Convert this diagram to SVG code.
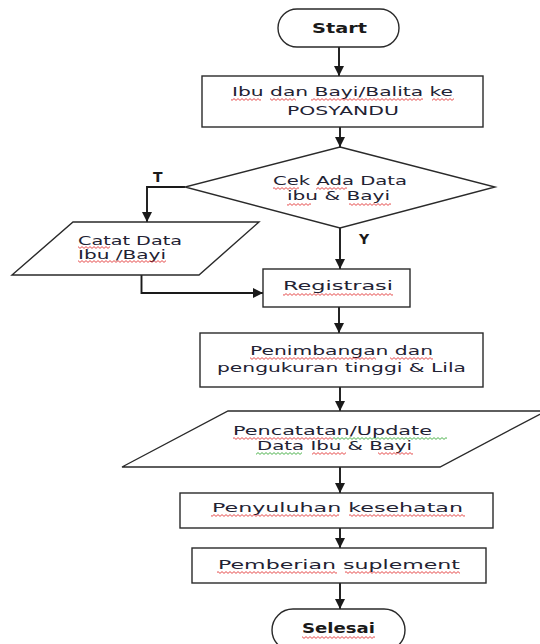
<svg xmlns="http://www.w3.org/2000/svg" width="540" height="644" viewBox="0 0 540 644">
  <defs>
    <style>
      .shape { fill: #ffffff; stroke: #2a2a2a; stroke-width: 1.4; }
      .link { fill: none; stroke: #1a1a1a; stroke-width: 1.9; }
      .lbl { font-family: "DejaVu Sans", "Liberation Sans", sans-serif; font-size: 13px; fill: #222233; }
      .tight { font-size: 11.5px; }
      .bold { font-family: "DejaVu Sans", "Liberation Sans", sans-serif; font-size: 14px; font-weight: bold; fill: #1a1a1a; }
      .sq-r { fill: url(#squigRed); }
      .sq-g { fill: url(#squigGreen); }
    </style>
    <marker id="arrow" viewBox="0 0 10 10" refX="10" refY="5" markerWidth="10" markerHeight="10" markerUnits="userSpaceOnUse" orient="auto">
      <path d="M0,0 L10,5 L0,10 z" fill="#1a1a1a"/>
    </marker>
    <!-- wavy proofing underline tiles -->
    <pattern id="squigRed" patternUnits="userSpaceOnUse" x="0" y="0" width="4" height="3">
      <polyline points="0,2.4 2,0.6 4,2.4" fill="none" stroke="#e02020" stroke-width="0.8"/>
    </pattern>
    <pattern id="squigGreen" patternUnits="userSpaceOnUse" x="0" y="0" width="4" height="3">
      <polyline points="0,2.4 2,0.6 4,2.4" fill="none" stroke="#20a020" stroke-width="0.8"/>
    </pattern>
  </defs>

  <rect width="540" height="644" fill="#ffffff"/>

  <!-- connectors -->
  <g id="connectors">
    <line class="link" x1="339" y1="47" x2="339" y2="76" marker-end="url(#arrow)"/>
    <line class="link" x1="340" y1="127" x2="340" y2="147" marker-end="url(#arrow)"/>
    <polyline class="link" points="185,187 147,187 147,222" marker-end="url(#arrow)"/>
    <line class="link" x1="340" y1="228" x2="340" y2="269" marker-end="url(#arrow)"/>
    <polyline class="link" points="141.5,275 141.5,293 263,293" marker-end="url(#arrow)"/>
    <line class="link" x1="339" y1="307" x2="339" y2="333" marker-end="url(#arrow)"/>
    <line class="link" x1="340" y1="387" x2="340" y2="411" marker-end="url(#arrow)"/>
    <line class="link" x1="340" y1="467" x2="340" y2="493" marker-end="url(#arrow)"/>
    <line class="link" x1="340" y1="528" x2="340" y2="548" marker-end="url(#arrow)"/>
    <line class="link" x1="340" y1="583" x2="340" y2="609" marker-end="url(#arrow)"/>
    <text class="bold" x="153" y="182" font-size="13">T</text>
    <text class="bold" x="359" y="244" font-size="13">Y</text>
  </g>

  <g id="start">
    <rect class="shape" x="278" y="9" width="121" height="38" rx="19" ry="19"/>
    <text class="bold" x="312" y="33" textLength="55" lengthAdjust="spacingAndGlyphs">Start</text>
  </g>

  <g id="arrive">
    <rect class="shape" x="202" y="76" width="281" height="51"/>
    <text class="lbl" x="232" y="96" textLength="221" lengthAdjust="spacingAndGlyphs">Ibu dan Bayi/Balita ke</text>
    <text class="lbl" x="287" y="115" textLength="112" lengthAdjust="spacingAndGlyphs">POSYANDU</text>
    <g transform="translate(0,98)">
      <rect class="sq-r" x="231" y="0" width="30" height="3"/>
      <rect class="sq-r" x="270" y="0" width="26" height="3"/>
      <rect class="sq-r" x="311" y="0" width="112" height="3"/>
      <rect class="sq-r" x="432" y="0" width="22" height="3"/>
    </g>
  </g>

  <g id="check">
    <polygon class="shape" points="340,147 495,187 340,228 185,187"/>
    <text class="lbl" x="273" y="185" textLength="134" lengthAdjust="spacingAndGlyphs">Cek Ada Data</text>
    <text class="lbl" x="287" y="200" textLength="103" lengthAdjust="spacingAndGlyphs">ibu &amp; Bayi</text>
    <g transform="translate(0,187)">
      <rect class="sq-r" x="273" y="0" width="26" height="3"/>
      <rect class="sq-r" x="316" y="0" width="31" height="3"/>
    </g>
    <g transform="translate(0,203)">
      <rect class="sq-r" x="287" y="0" width="24" height="3"/>
      <rect class="sq-r" x="349" y="0" width="42" height="3"/>
    </g>
  </g>

  <g id="record-new">
    <polygon class="shape" points="73,222 259,222 199,275 12,275"/>
    <text class="lbl tight" x="78" y="245" textLength="104" lengthAdjust="spacingAndGlyphs">Catat Data</text>
    <text class="lbl tight" x="78" y="259" textLength="88" lengthAdjust="spacingAndGlyphs">Ibu /Bayi</text>
    <g transform="translate(0,246)">
      <rect class="sq-r" x="78" y="0" width="32" height="3"/>
    </g>
    <g transform="translate(0,260)">
      <rect class="sq-r" x="78" y="0" width="88" height="3"/>
    </g>
  </g>

  <g id="registration">
    <rect class="shape" x="263" y="269" width="147" height="38"/>
    <text class="lbl" x="283" y="290" textLength="110" lengthAdjust="spacingAndGlyphs">Registrasi</text>
    <g transform="translate(0,293)">
      <rect class="sq-r" x="283" y="0" width="110" height="3"/>
    </g>
  </g>

  <g id="measure">
    <rect class="shape" x="200" y="333" width="283" height="54"/>
    <text class="lbl" x="250" y="355" textLength="183" lengthAdjust="spacingAndGlyphs">Penimbangan dan</text>
    <text class="lbl" x="217" y="372" textLength="249" lengthAdjust="spacingAndGlyphs">pengukuran tinggi &amp; Lila</text>
    <g transform="translate(0,357)">
      <rect class="sq-r" x="250" y="0" width="126" height="3"/>
      <rect class="sq-r" x="390" y="0" width="43" height="3"/>
    </g>
  </g>

  <g id="update">
    <polygon class="shape" points="228,411 546,411 440,467 122,467"/>
    <text class="lbl tight" x="233" y="435" textLength="199" lengthAdjust="spacingAndGlyphs">Pencatatan/Update</text>
    <text class="lbl tight" x="257" y="450" textLength="155" lengthAdjust="spacingAndGlyphs">Data Ibu &amp; Bayi</text>
    <g transform="translate(0,437)">
      <rect class="sq-r" x="233" y="0" width="100" height="3"/>
      <rect class="sq-g" x="333" y="0" width="114" height="3"/>
    </g>
    <g transform="translate(0,452)">
      <rect class="sq-g" x="256" y="0" width="46" height="3"/>
      <rect class="sq-r" x="312" y="0" width="34" height="3"/>
      <rect class="sq-r" x="378" y="0" width="35" height="3"/>
    </g>
  </g>

  <g id="counseling">
    <rect class="shape" x="180" y="493" width="313" height="35"/>
    <text class="lbl" x="212" y="512" textLength="251" lengthAdjust="spacingAndGlyphs">Penyuluhan  kesehatan</text>
    <g transform="translate(0,514)">
      <rect class="sq-r" x="211" y="0" width="128" height="3"/>
      <rect class="sq-r" x="349" y="0" width="116" height="3"/>
    </g>
  </g>

  <g id="supplement">
    <rect class="shape" x="192" y="548" width="294" height="35"/>
    <text class="lbl" x="218" y="569" textLength="242" lengthAdjust="spacingAndGlyphs">Pemberian suplement</text>
    <g transform="translate(0,571)">
      <rect class="sq-r" x="217" y="0" width="120" height="3"/>
      <rect class="sq-r" x="345" y="0" width="115" height="3"/>
    </g>
  </g>

  <g id="finish">
    <rect class="shape" x="272" y="609" width="133" height="42" rx="21" ry="21"/>
    <text class="bold" x="302" y="633" textLength="73" lengthAdjust="spacingAndGlyphs">Selesai</text>
    <g transform="translate(0,636)">
      <rect class="sq-r" x="302" y="0" width="73" height="3"/>
    </g>
  </g>
</svg>
